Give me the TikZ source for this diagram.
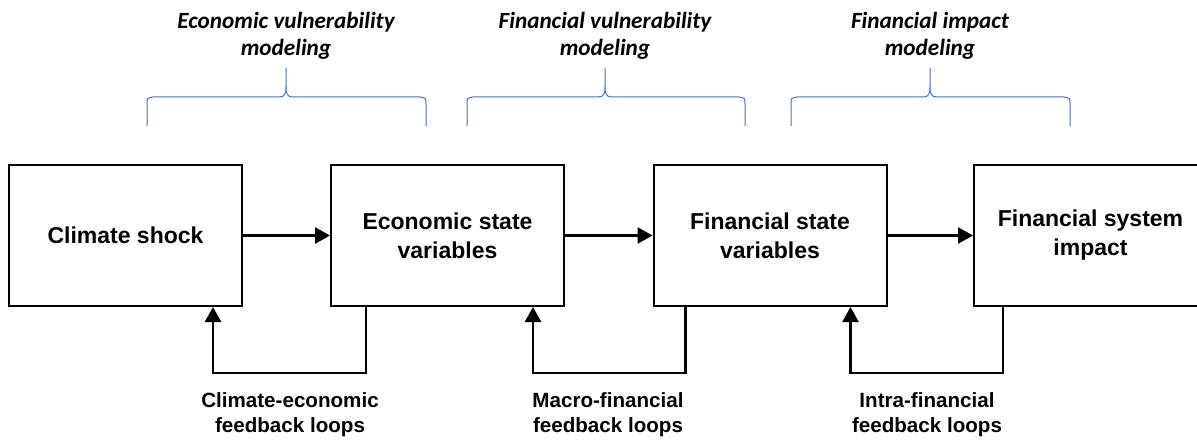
\documentclass[tikz,border=0pt]{standalone}
\usepackage{fontspec}
\setmainfont{Liberation Sans}
\newfontfamily\carl{Carlito}
\usetikzlibrary{arrows.meta,calc}
\definecolor{braceblue}{RGB}{68,114,196}
\begin{document}
\begin{tikzpicture}[x=1pt,y=-1pt,
  box/.style={draw=black,line width=2pt,minimum width=233pt,minimum height=141pt,
    inner sep=0pt,align=center,font=\fontsize{23}{29}\selectfont\bfseries},
  flow/.style={line width=2.6pt,-{Triangle[length=15pt,width=16pt]}},
  fb/.style={line width=2.6pt,line join=miter,-{Triangle[length=15pt,width=16pt]}},
  fblabel/.style={align=center,font=\fontsize{20.6}{25}\selectfont\bfseries},
  toplabel/.style={align=center,font=\carl\fontsize{23.2}{26.5}\selectfont\bfseries\itshape},
  brace/.style={draw=braceblue,line width=1pt}]
\useasboundingbox (0,0) rectangle (1197,441);
\clip (0,0) rectangle (1197,441);

% boxes
\node[box] (b1) at (125.5,235.5) {Climate shock};
\node[box] (b2) at (447.5,235.5) {Economic state\\variables};
\node[box] (b3) at (770,235.5) {Financial state\\variables};
\node[box] (b4) at (1090.5,235.5) {Financial system\\impact};

% forward arrows
\draw[flow] (b1.east) -- (b2.west);
\draw[flow] (b2.east) -- (b3.west);
\draw[flow] (b3.east) -- (b4.west);

% feedback loops
\draw[fb] ($(b2.south west)+(36,0)$) -- ++(0,66) -| ($(b1.south east)+(-30,0)$);
\draw[fb] ($(b3.south west)+(33,0)$) -- ++(0,66) -| ($(b2.south east)+(-32,0)$);
\draw[fb] ($(b4.south west)+(30,0)$) -- ++(0,66) -| ($(b3.south east)+(-37,0)$);

% feedback labels
\node[fblabel] (l1) at (290,415) {Climate-economic\\feedback loops};
\node[fblabel] (l2) at (608,415) {Macro-financial\\feedback loops};
\node[fblabel] (l3) at (927,415) {Intra-financial\\feedback loops};

% braces
\foreach \xa/\xm/\xb/\nm in {147/286/426/br1, 467/605/745/br2, 791/930/1070/br3}{
  \draw[brace] (\xa,126) -- (\xa,104) .. controls (\xa,98) .. (\xa+6,97)
    -- (\xm-7,97) .. controls (\xm-1,97) and (\xm,94) .. (\xm,86) -- (\xm,68)
    -- (\xm,86) .. controls (\xm,94) and (\xm+1,97) .. (\xm+7,97)
    -- (\xb-6,97) .. controls (\xb,98) .. (\xb,104) -- (\xb,126);
  \coordinate (\nm) at (\xm,68);
}

% top labels
\node[toplabel] (t1) at (286,36) {Economic vulnerability\\modeling};
\node[toplabel] (t2) at (605,36) {Financial vulnerability\\modeling};
\node[toplabel] (t3) at (930,36) {Financial impact\\modeling};
\end{tikzpicture}
\end{document}
